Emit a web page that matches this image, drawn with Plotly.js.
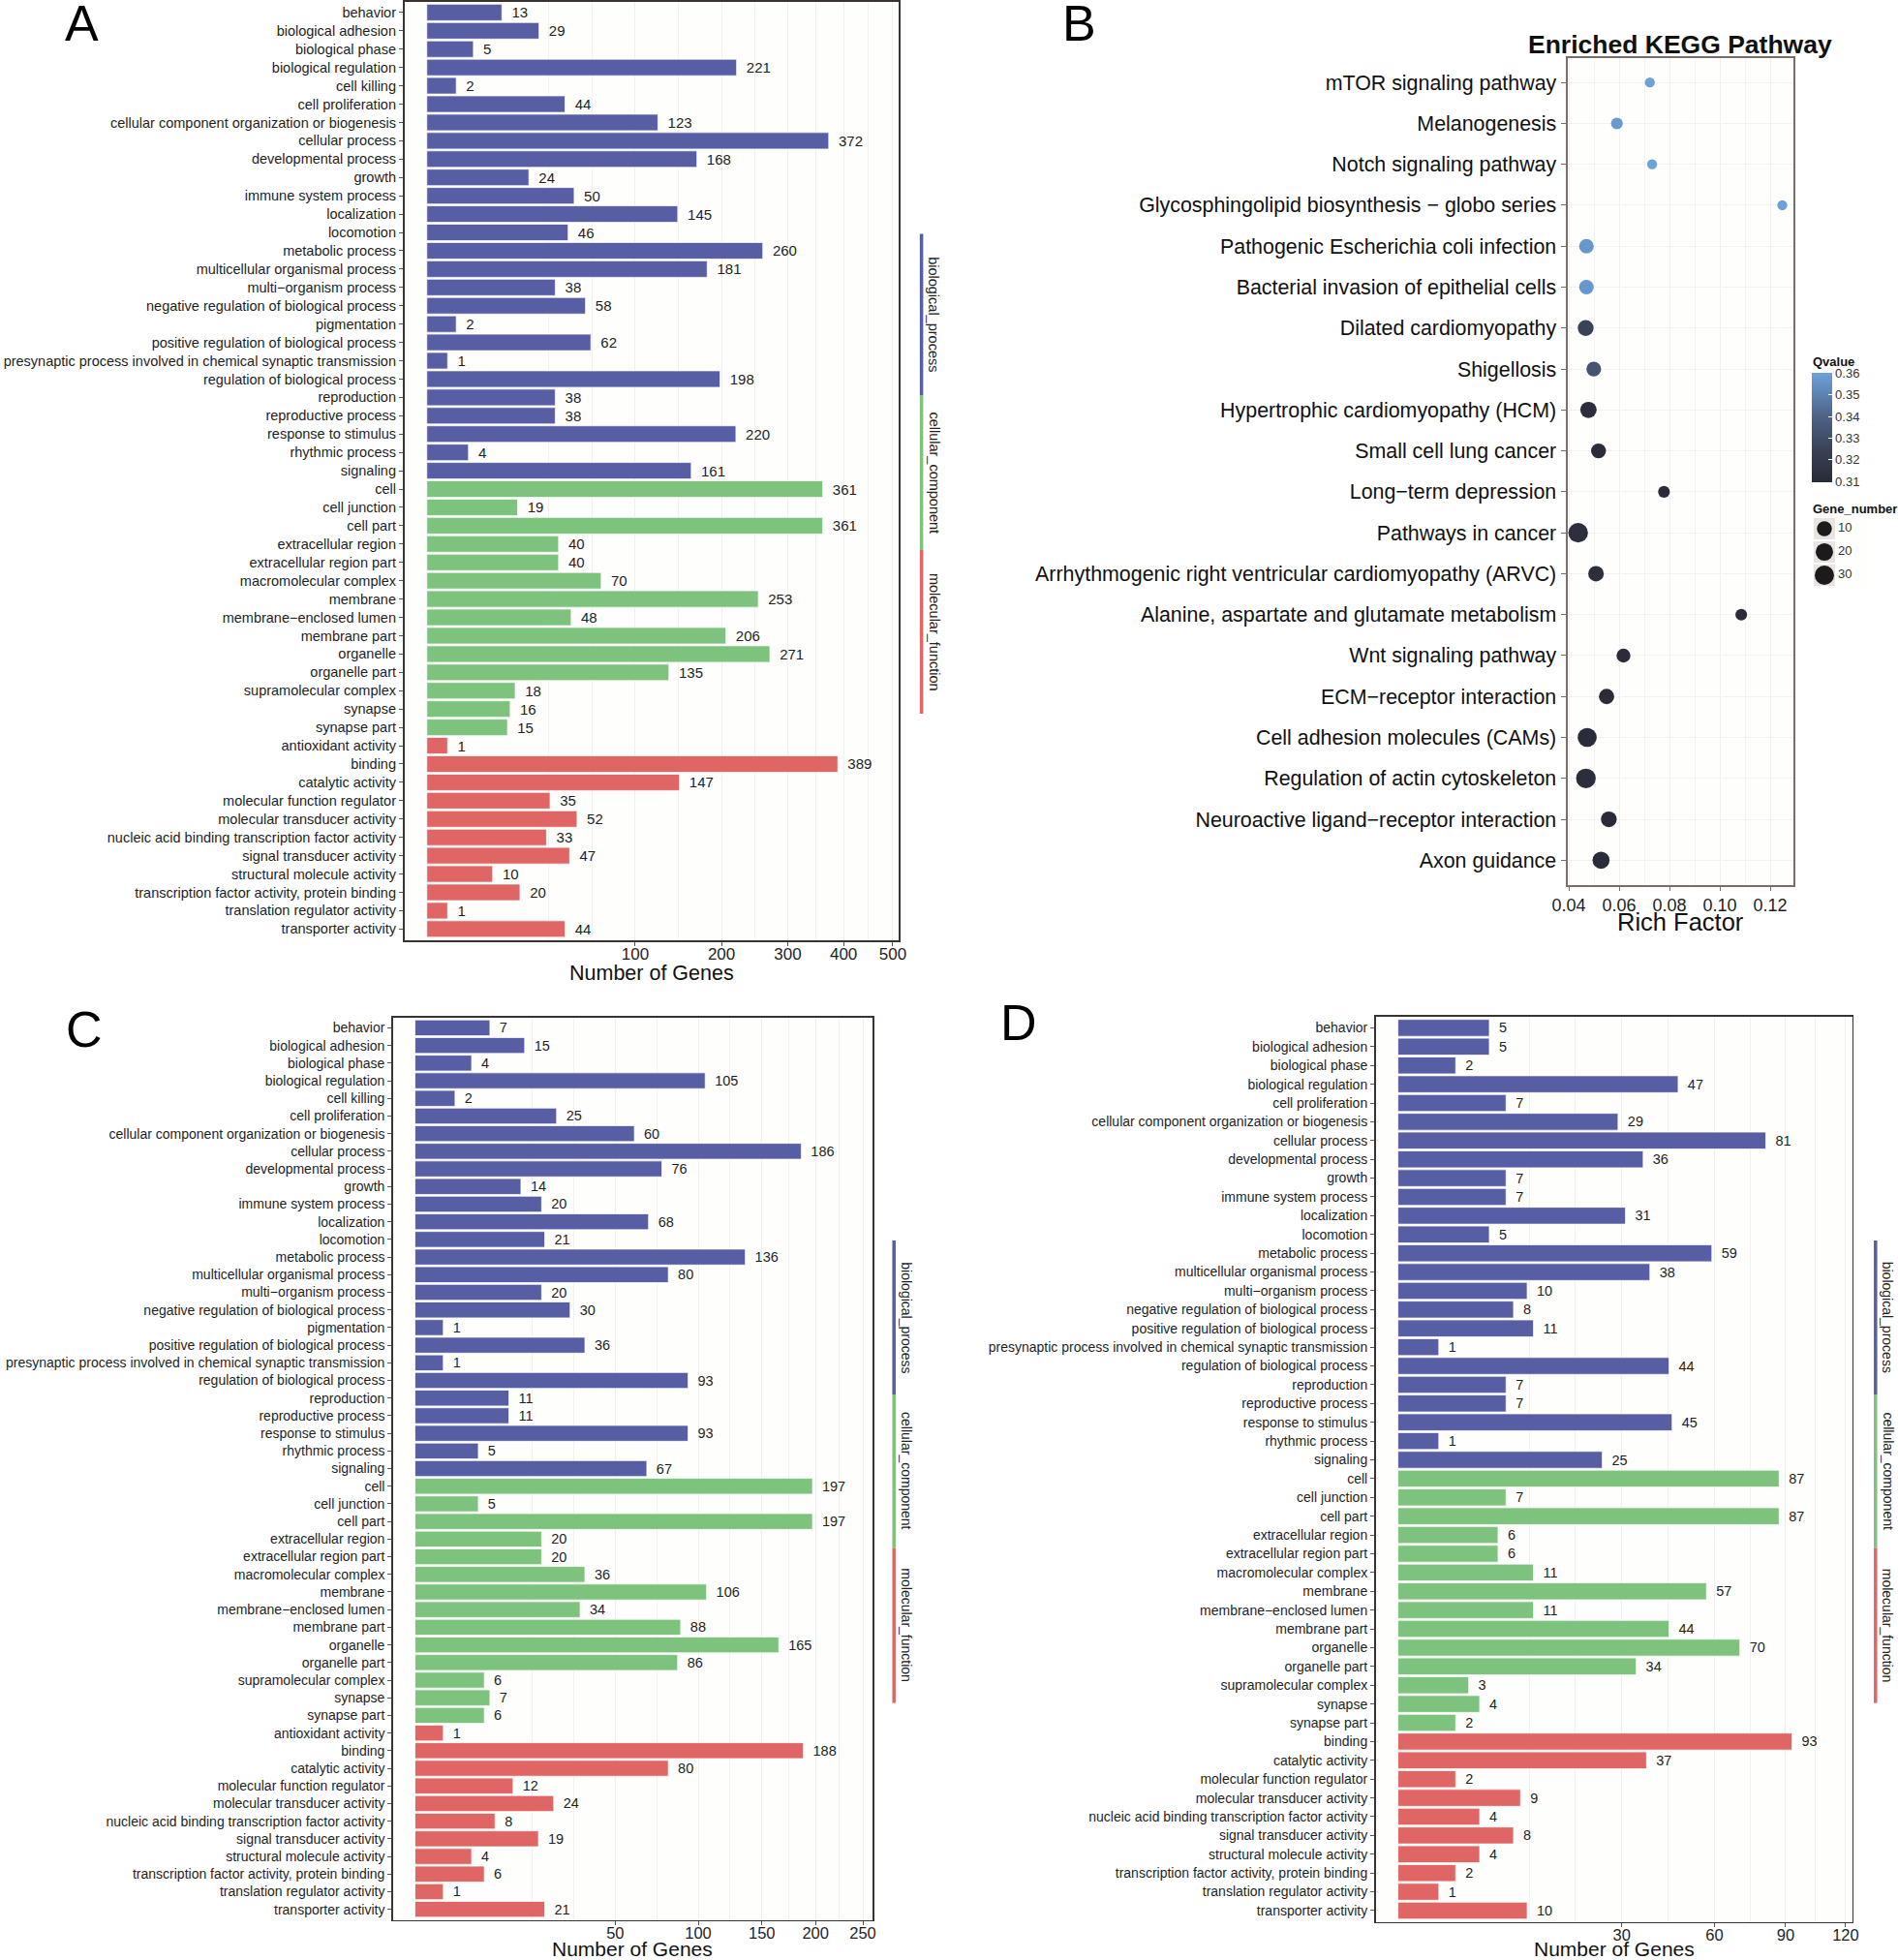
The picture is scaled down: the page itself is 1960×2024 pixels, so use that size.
<!DOCTYPE html>
<html><head><meta charset="utf-8">
<script src="https://cdn.plot.ly/plotly-3.0.1.min.js"></script>
<style>html,body{margin:0;padding:0;background:#fff}#chart{width:1960px;height:2024px}</style>
</head><body><div id="chart"></div>
<script>
// ---------------- DATA ----------------
const termsAC = ['behavior','biological adhesion','biological phase','biological regulation','cell killing','cell proliferation','cellular component organization or biogenesis','cellular process','developmental process','growth','immune system process','localization','locomotion','metabolic process','multicellular organismal process','multi\u2212organism process','negative regulation of biological process','pigmentation','positive regulation of biological process','presynaptic process involved in chemical synaptic transmission','regulation of biological process','reproduction','reproductive process','response to stimulus','rhythmic process','signaling',
 'cell','cell junction','cell part','extracellular region','extracellular region part','macromolecular complex','membrane','membrane\u2212enclosed lumen','membrane part','organelle','organelle part','supramolecular complex','synapse','synapse part',
 'antioxidant activity','binding','catalytic activity','molecular function regulator','molecular transducer activity','nucleic acid binding transcription factor activity','signal transducer activity','structural molecule activity','transcription factor activity, protein binding','translation regulator activity','transporter activity'];
const groupSizesAC = [26, 14, 11];
const countsA = [13,29,5,221,2,44,123,372,168,24,50,145,46,260,181,38,58,2,62,1,198,38,38,220,4,161,
 361,19,361,40,40,70,253,48,206,271,135,18,16,15,
 1,389,147,35,52,33,47,10,20,1,44];
const countsC = [7,15,4,105,2,25,60,186,76,14,20,68,21,136,80,20,30,1,36,1,93,11,11,93,5,67,
 197,5,197,20,20,36,106,34,88,165,86,6,7,6,
 1,188,80,12,24,8,19,4,6,1,21];
const termsD = ['behavior','biological adhesion','biological phase','biological regulation','cell proliferation','cellular component organization or biogenesis','cellular process','developmental process','growth','immune system process','localization','locomotion','metabolic process','multicellular organismal process','multi\u2212organism process','negative regulation of biological process','positive regulation of biological process','presynaptic process involved in chemical synaptic transmission','regulation of biological process','reproduction','reproductive process','response to stimulus','rhythmic process','signaling',
 'cell','cell junction','cell part','extracellular region','extracellular region part','macromolecular complex','membrane','membrane\u2212enclosed lumen','membrane part','organelle','organelle part','supramolecular complex','synapse','synapse part',
 'binding','catalytic activity','molecular function regulator','molecular transducer activity','nucleic acid binding transcription factor activity','signal transducer activity','structural molecule activity','transcription factor activity, protein binding','translation regulator activity','transporter activity'];
const groupSizesD = [24, 14, 10];
const countsD = [5,5,2,47,7,29,81,36,7,7,31,5,59,38,10,8,11,1,44,7,7,45,1,25,
 87,7,87,6,6,11,57,11,44,70,34,3,4,2,
 93,37,2,9,4,8,4,2,1,10];
const ontologyNames = ['biological_process','cellular_component','molecular_function'];
const ticksA = [100,200,300,400,500];
const ticksC = [50,100,150,200,250];
const ticksD = [30,60,90,120];

const pathways = ['mTOR signaling pathway','Melanogenesis','Notch signaling pathway','Glycosphingolipid biosynthesis \u2212 globo series','Pathogenic Escherichia coli infection','Bacterial invasion of epithelial cells','Dilated cardiomyopathy','Shigellosis','Hypertrophic cardiomyopathy (HCM)','Small cell lung cancer','Long\u2212term depression','Pathways in cancer','Arrhythmogenic right ventricular cardiomyopathy (ARVC)','Alanine, aspartate and glutamate metabolism','Wnt signaling pathway','ECM\u2212receptor interaction','Cell adhesion molecules (CAMs)','Regulation of actin cytoskeleton','Neuroactive ligand\u2212receptor interaction','Axon guidance'];
const richFactor = [0.0722,0.0591,0.0731,0.1248,0.0470,0.0470,0.0467,0.0499,0.0478,0.0518,0.0778,0.0437,0.0508,0.1085,0.0617,0.0550,0.0473,0.0468,0.0559,0.0528];
const qValue = [0.360,0.358,0.360,0.360,0.357,0.357,0.325,0.333,0.312,0.311,0.311,0.313,0.312,0.311,0.311,0.311,0.311,0.312,0.310,0.311];
const geneNumber = [2,3,2,2,9,9,13,9,15,10,3,32,12,3,7,11,28,32,13,18];
const richTicks = [0.04,0.06,0.08,0.10,0.12];
const qTicks = [0.31,0.32,0.33,0.34,0.35,0.36];
const sizeBreaks = [10,20,30];

// ---------------- STYLE / LAYOUT HELPERS ----------------
const W = 1960, H = 2024;
const FONT = 'Liberation Sans, Arial, Helvetica, sans-serif';
const ontColors = ['#585ea3','#7dc37d','#e06565'];
const px = v => v / W;
const py = v => 1 - v / H;
const domX = (a, b) => [a / W, b / W];
const domY = (top, bot) => [1 - bot / H, 1 - top / H];

function colorsFor(sizes) {
  const out = [];
  sizes.forEach((n, i) => { for (let k = 0; k < n; k++) out.push(ontColors[i]); });
  return out;
}
function minorGrid(ticks) {
  const s = ticks.map(Math.sqrt);
  const gap = s[1] - s[0];
  const first = s[0] - gap;
  const out = [first, (first + s[0]) / 2];
  for (let i = 0; i < s.length - 1; i++) out.push((s[i] + s[i + 1]) / 2);
  return out;
}
const dMin = 10.3, dMax = 20.3;
const gMin = Math.min(...geneNumber), gMax = Math.max(...geneNumber);
const sizeOf = v => dMin + (dMax - dMin) * Math.sqrt(Math.max(0, (v - gMin) / (gMax - gMin)));

function barTrace(terms, counts, sizes, xa, ya, fs) {
  return {
    type: 'bar', orientation: 'h',
    x: counts.map(Math.sqrt), y: terms,
    text: counts.map(String), texttemplate: '\u00a0\u2009%{text}',
    textposition: 'outside', cliponaxis: false, constraintext: 'none', textangle: 0,
    outsidetextfont: { family: FONT, size: fs, color: '#1e1e1e' },
    marker: { color: colorsFor(sizes), line: { color: 'rgba(255,255,255,0.75)', width: 1 } },
    width: 0.9, xaxis: xa, yaxis: ya, hoverinfo: 'skip', showlegend: false
  };
}
function barXAxis(dom, range, ticks, fs) {
  return {
    domain: dom, range: range, type: 'linear', fixedrange: true, automargin: false,
    tickmode: 'array', tickvals: ticks.map(Math.sqrt), ticktext: ticks.map(String),
    ticks: 'outside', ticklen: 4, tickcolor: '#555', tickwidth: 1, ticklabelstandoff: -6,
    tickfont: { family: FONT, size: fs, color: '#1e1e1e' },
    showgrid: true, gridcolor: '#efefef', gridwidth: 1,
    minor: { tickmode: 'array', tickvals: minorGrid(ticks), showgrid: true, gridcolor: '#f1f1f1', gridwidth: 1, ticks: '' },
    zeroline: false, showline: true, mirror: true, linecolor: '#3a3333', linewidth: 1.8
  };
}
function barYAxis(dom, terms, fs, anchor) {
  return {
    domain: dom, type: 'category', anchor: anchor, fixedrange: true, automargin: false,
    categoryorder: 'array', categoryarray: terms,
    tickmode: 'array', tickvals: terms, ticktext: terms,
    range: [terms.length - 0.4, -0.6],
    ticks: 'outside', ticklen: 4, tickcolor: '#555', tickwidth: 1,
    tickfont: { family: FONT, size: fs, color: '#1e1e1e' },
    showgrid: false, zeroline: false, showline: true, mirror: true, linecolor: '#3a3333', linewidth: 1.8
  };
}

// panel frames (pixels)
const frameA = { l: 417.7, r: 928.4, t: 1.5, b: 970.7 };
const frameB = { l: 1618.5, r: 1851.7, t: 59.8, b: 913.7 };
const frameC = { l: 406.0, r: 900.9, t: 1050.5, b: 1982.6 };
const frameD = { l: 1420.8, r: 1912.5, t: 1049.8, b: 1984.6 };

const traces = [
  barTrace(termsAC, countsA, groupSizesAC, 'x', 'y', 15),
  barTrace(termsAC, countsC, groupSizesAC, 'x3', 'y3', 14.5),
  barTrace(termsD, countsD, groupSizesD, 'x4', 'y4', 14.5),
  {
    type: 'scatter', mode: 'markers', x: richFactor, y: pathways, xaxis: 'x2', yaxis: 'y2',
    hoverinfo: 'skip', showlegend: false, cliponaxis: false,
    marker: {
      size: geneNumber.map(sizeOf), color: qValue, opacity: 1,
      colorscale: [[0, '#292a37'], [0.3, '#3a4257'], [0.6, '#4d6387'], [1, '#6ca2da']],
      cmin: 0.3096, cmax: 0.3602, showscale: true, line: { width: 0 },
      colorbar: {
        xref: 'container', yref: 'container', x: 1871 / W, xanchor: 'left',
        y: 1 - 441.5 / H, yanchor: 'middle', lenmode: 'pixels', len: 113,
        thicknessmode: 'pixels', thickness: 21, xpad: 0, ypad: 0, outlinewidth: 0,
        tickmode: 'array', tickvals: qTicks, ticktext: qTicks.map(v => v.toFixed(2)),
        ticks: 'inside', ticklen: 4, tickcolor: '#ffffff', tickwidth: 1,
        tickfont: { family: FONT, size: 13, color: '#333' }, title: { text: '' }
      }
    }
  },
  // size legend keys
  { type: 'scatter', mode: 'markers', x: sizeBreaks.map(() => 1.2), y: sizeBreaks, xaxis: 'x5', yaxis: 'y5',
    marker: { symbol: 'square', size: 22, color: '#e9e4e2', line: { width: 0 } }, hoverinfo: 'skip', showlegend: false },
  { type: 'scatter', mode: 'markers', x: sizeBreaks.map(() => 1.2), y: sizeBreaks, xaxis: 'x5', yaxis: 'y5',
    marker: { size: sizeBreaks.map(sizeOf), color: '#1c1a1a', opacity: 1, line: { width: 0 } }, hoverinfo: 'skip', showlegend: false },
  { type: 'scatter', mode: 'text', x: sizeBreaks.map(() => 2.6), y: sizeBreaks, xaxis: 'x5', yaxis: 'y5',
    text: sizeBreaks.map(String), textposition: 'middle right', cliponaxis: false,
    textfont: { family: FONT, size: 13, color: '#333' }, hoverinfo: 'skip', showlegend: false }
];

// strips
const strips = [
  { x: 951.6, segs: [[241.5, 408], [408, 568], [568, 737]], fs: 14.5 },
  { x: 923.2, segs: [[1281, 1440], [1440, 1598.5], [1598.5, 1758.6]], fs: 14 },
  { x: 1936.8, segs: [[1281, 1440], [1440, 1598.5], [1598.5, 1758.6]], fs: 14 }
];
const shapes = [];
const annotations = [];
strips.forEach(s => {
  s.segs.forEach((seg, i) => {
    shapes.push({ type: 'line', xref: 'paper', yref: 'paper', x0: px(s.x), x1: px(s.x), y0: py(seg[0]), y1: py(seg[1]),
      line: { color: ontColors[i], width: 3.5 } });
    annotations.push({ xref: 'paper', yref: 'paper', x: px(s.x + 3), y: py((seg[0] + seg[1]) / 2),
      xanchor: 'left', yanchor: 'middle', textangle: 90, showarrow: false, text: ontologyNames[i],
      font: { family: FONT, size: s.fs, color: '#222' } });
  });
});
function label(text, x, y, size, opts) {
  annotations.push(Object.assign({ xref: 'paper', yref: 'paper', x: px(x), y: py(y), xanchor: 'center', yanchor: 'middle',
    showarrow: false, text: text, font: { family: FONT, size: size, color: '#111' } }, opts || {}));
}
const letterOpts = { font: { family: FONT, size: 52, color: '#000' }, borderpad: 0 };
label('A', 84, 23.5, 52, letterOpts);
label('B', 1114, 23.5, 52, letterOpts);
label('C', 86.5, 1062.6, 52, letterOpts);
label('D', 1052, 1056, 52, letterOpts);
label('<b>Enriched KEGG Pathway</b>', 1735, 46, 26.5);
label('Number of Genes', (frameA.l + frameA.r) / 2, 1004.6, 21.5);
label('Number of Genes', (frameC.l + frameC.r) / 2, 2012, 21);
label('Number of Genes', (frameD.l + frameD.r) / 2, 2012, 21);
label('Rich Factor', (frameB.l + frameB.r) / 2, 951.6, 25.5);
label('<b>Qvalue</b>', 1870, 373, 13, { xanchor: 'left' });
label('<b>Gene_number</b>', 1870, 525, 13, { xanchor: 'left' });

const layout = {
  width: W, height: H, margin: { l: 0, r: 0, t: 0, b: 0, pad: 0, autoexpand: false },
  paper_bgcolor: '#ffffff', plot_bgcolor: '#fefefc', showlegend: false,
  font: { family: FONT, color: '#1e1e1e' },
  bargap: 0.1,
  xaxis: Object.assign(barXAxis(domX(frameA.l, frameA.r), [-1.07, 22.66], ticksA, 17), { anchor: 'y' }),
  yaxis: barYAxis(domY(frameA.t, frameA.b), termsAC, 14.5, 'x'),
  xaxis3: Object.assign(barXAxis(domX(frameC.l, frameC.r), [-0.77, 16.15], ticksC, 16.5), { anchor: 'y3' }),
  yaxis3: barYAxis(domY(frameC.t, frameC.b), termsAC, 14, 'x3'),
  xaxis4: Object.assign(barXAxis(domX(frameD.l, frameD.r), [-0.54, 11.11], ticksD, 16.5), { anchor: 'y4' }),
  yaxis4: barYAxis(domY(frameD.t, frameD.b), termsD, 14, 'x4'),
  xaxis2: {
    domain: domX(frameB.l, frameB.r), anchor: 'y2', range: [0.0394, 0.1291], fixedrange: true, automargin: false,
    tickmode: 'array', tickvals: richTicks, ticktext: richTicks.map(v => v.toFixed(2)),
    ticks: 'outside', ticklen: 4, tickcolor: '#7a6e6a', tickfont: { family: FONT, size: 18, color: '#1e1e1e' },
    showgrid: true, gridcolor: '#f0f0f0',
    minor: { tickmode: 'array', tickvals: [0.05, 0.07, 0.09, 0.11], showgrid: true, gridcolor: '#f3f3f3', ticks: '' },
    zeroline: false, showline: true, mirror: true, linecolor: '#7a6e6a', linewidth: 2
  },
  yaxis2: {
    domain: domY(frameB.t, frameB.b), anchor: 'x2', type: 'category', fixedrange: true, automargin: false,
    categoryorder: 'array', categoryarray: pathways, tickmode: 'array', tickvals: pathways, ticktext: pathways,
    range: [pathways.length - 0.4, -0.6],
    ticks: 'outside', ticklen: 5, tickcolor: '#7a6e6a', tickfont: { family: FONT, size: 21.4, color: '#111' },
    showgrid: true, gridcolor: '#f2f2f2', zeroline: false, showline: true, mirror: true, linecolor: '#7a6e6a', linewidth: 2
  },
  xaxis5: { domain: domX(1872, 1932), anchor: 'y5', range: [0, 6], visible: false, fixedrange: true },
  yaxis5: { domain: domY(534, 606), anchor: 'x5', range: [35, 5], visible: false, fixedrange: true },
  shapes: shapes, annotations: annotations
};

Plotly.newPlot('chart', traces, layout, { displayModeBar: false, staticPlot: true });
</script>
</body></html>
